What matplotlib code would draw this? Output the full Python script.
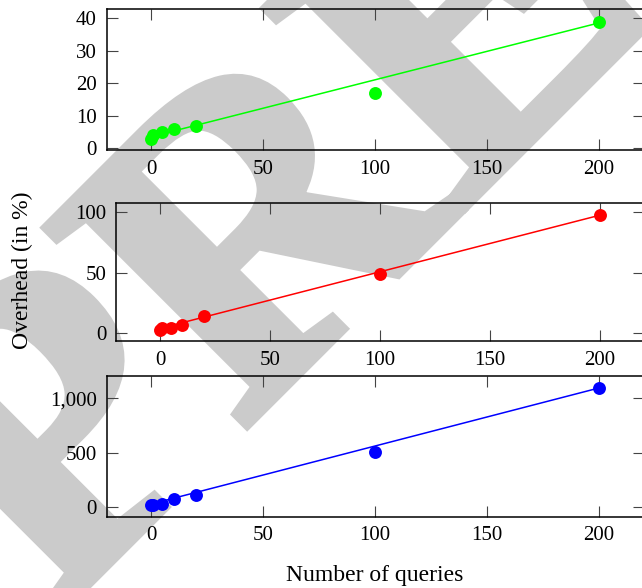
import matplotlib.pyplot as plt
from matplotlib.ticker import FuncFormatter
from matplotlib.textpath import TextPath
from matplotlib.font_manager import FontProperties
from matplotlib.patches import PathPatch
from matplotlib.transforms import Affine2D
from matplotlib.textpath import text_to_path

# Data
queries = [0, 1, 5, 10, 20, 100, 200]
green_vals = [3, 4, 5, 6, 7, 17, 39]
red_vals = [3, 4, 4, 7, 14, 49, 98]
blue_vals = [12, 15, 22, 70, 105, 505, 1095]

# fitted lines (endpoints)
fit_x = [0, 200]
green_fit = [3.6, 38.6]
red_fit = [4.0, 97.5]
blue_fit = [25, 1095]

plt.rcParams['font.family'] = ['Liberation Serif', 'DejaVu Serif']

W, H = 642, 588
fig = plt.figure(figsize=(W / 100, H / 100), dpi=100)

# big grey watermark across the page, behind the plots
wm_text = "PREPRINT"
wm_size = 430
fp = FontProperties(family='Liberation Serif', weight='bold', size=wm_size)
off_e = text_to_path.get_text_width_height_descent("PR", fp, ismath=False)[0]
rot = Affine2D().translate(-(off_e + 0.1 * wm_size), 0).rotate_deg(45).translate(490, H - 182)
wm_path = TextPath((0, 0), wm_text, size=wm_size, prop=fp)
fig.add_artist(PathPatch(wm_path, fc='#cbcbcb', ec='#cbcbcb', lw=7,
                         transform=rot, zorder=-1))

# axes boxes in pixels: left, top, bottom
boxes = [(106.5, 9.3, 150.0), (116.0, 203.3, 341.0), (106.5, 376.0, 516.7)]
right_px = 643.5
ylims = [(-0.5, 42.8), (-6.4, 107.4), (-92, 1206)]
yticks = [[0, 10, 20, 30, 40], [0, 50, 100], [0, 500, 1000]]
series = [(green_vals, green_fit, '#00ff00'), (red_vals, red_fit, '#ff0000'),
          (blue_vals, blue_fit, '#0000ff')]

for i, ((l, t, b), yl, yt, (vals, fit, col)) in enumerate(zip(boxes, ylims, yticks, series)):
    ax = fig.add_axes([l / W, (H - b) / H, (right_px - l) / W, (b - t) / H])
    ax.set_facecolor('none')
    ax.plot(fit_x, fit, color=col, lw=1.1, zorder=2)
    ax.plot(queries, vals, 'o', color=col, ms=9.3, mec='none', zorder=3)
    ax.set_xlim(-20, 220)
    ax.set_ylim(*yl)
    ax.set_xticks([0, 50, 100, 150, 200])
    ax.set_yticks(yt)
    ax.yaxis.set_major_formatter(FuncFormatter(lambda v, p: f"{v:,.0f}"))
    ax.tick_params(direction='in', length=8, width=0.8, color='#444444',
                   top=True, right=True, labelsize=15, pad=7)
    for s in ax.spines.values():
        s.set_linewidth(1.1)
    if i == 2:
        ax.set_xlabel("Number of queries", fontsize=17, labelpad=14)

fig.text(22 / W, 1 - 270 / H, "Overhead (in %)", rotation=90, fontsize=17,
         ha='center', va='center')

fig.savefig("out.png", dpi=100)
